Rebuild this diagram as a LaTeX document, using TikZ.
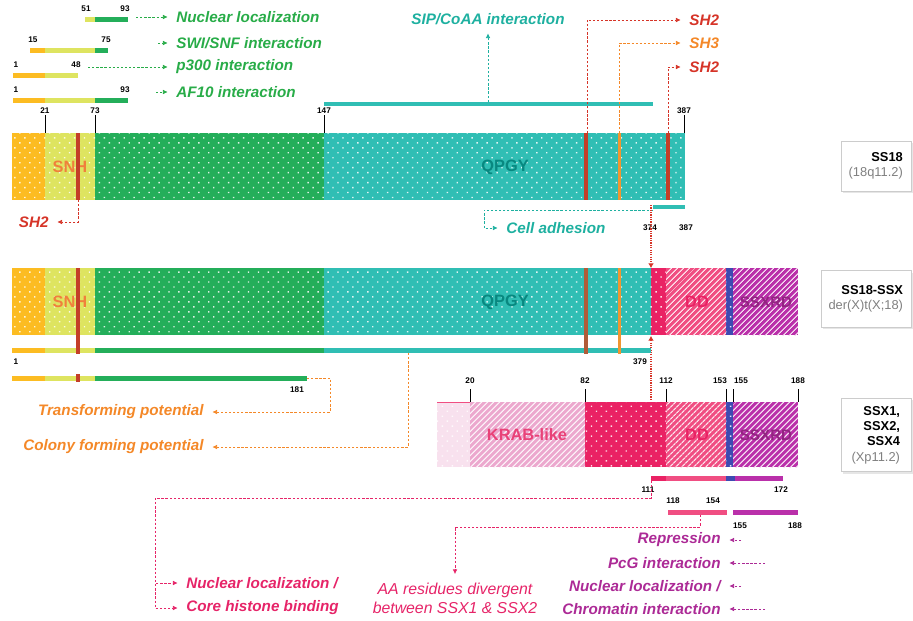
\documentclass[tikz,border=0pt]{standalone}
\usepackage{fontspec}
\setmainfont{Liberation Sans}
\usetikzlibrary{calc,arrows.meta,patterns.meta,shadows}

\definecolor{snhorange}{RGB}{252,188,34}
\definecolor{snhyellow}{RGB}{222,228,96}
\definecolor{ntgreen}{RGB}{36,174,90}
\definecolor{qpgyteal}{RGB}{48,190,180}
\definecolor{shred}{RGB}{196,62,40}
\definecolor{shbrown}{RGB}{176,92,56}
\definecolor{shorange}{RGB}{240,150,48}
\definecolor{ddpink}{RGB}{240,78,130}
\definecolor{deeppink}{RGB}{234,34,100}
\definecolor{krabpink}{RGB}{236,168,206}
\definecolor{rdblue}{RGB}{62,74,178}
\definecolor{rdpurple}{RGB}{186,48,170}
\definecolor{greentext}{RGB}{40,172,72}
\definecolor{tealtext}{RGB}{30,176,160}
\definecolor{redtext}{RGB}{214,52,40}
\definecolor{orangetext}{RGB}{244,136,40}
\definecolor{pinktext}{RGB}{230,36,104}
\definecolor{purpletext}{RGB}{172,42,150}
\definecolor{snhtext}{RGB}{240,128,60}
\definecolor{qpgytext}{RGB}{8,136,128}

\tikzset{
  dotbar/.style={fill=#1,postaction={pattern={Dots[distance=6pt,radius=0.85pt,angle=45]},pattern color=white!85!#1}},
  hatchbar/.style={fill=#1,postaction={pattern={Lines[angle=45,distance=4pt,line width=1.1pt]},pattern color=white!85!#1}},
  seg/.style={draw=#1,line width=1.5mm},
  num/.style={font=\fontsize{7}{8}\selectfont\bfseries,inner sep=1pt},
  lab/.style={font=\fontsize{13}{15}\selectfont\bfseries\itshape,inner sep=1pt},
  dom/.style={font=\fontsize{14}{16}\selectfont\bfseries},
  tickline/.style={line width=0.8pt},
  conn/.style={dash pattern=on 2pt off 1.5pt,line width=0.6pt,shorten >=2.2mm,-{Latex[length=4pt,width=4pt]}},
  bpline/.style={draw=redtext,densely dotted,line width=1pt},
  infobox/.style={draw=gray!40,fill=white,drop shadow={opacity=0.2,shadow xshift=0.6mm,shadow yshift=-0.6mm},align=right,inner sep=3pt,font=\fontsize{11}{13}\selectfont}
}

\begin{document}
\begin{tikzpicture}[x=0.3mm,y=-0.3mm]
  \path[use as bounding box] (0,0) rectangle (913,620);

  % N-terminal fragments
  \foreach \a/\b/\c/\y in {85/95/snhyellow/19,95/128/ntgreen/19,30/45/snhorange/50,45/95/snhyellow/50,95/108/ntgreen/50,
                           13/45/snhorange/75,45/78/snhyellow/75,13/45/snhorange/100,45/95/snhyellow/100,95/128/ntgreen/100}
    \draw[seg=\c] (\a,\y) -- (\b,\y);
  \node[num] (f51) at (86,9) {51};
  \node[num] (f93a) at (125,9) {93};
  \node[num] (f15) at (33,40) {15};
  \node[num] (f75) at (106,40) {75};
  \node[num] (f1a) at (16,65) {1};
  \node[num] (f48) at (76,65) {48};
  \node[num] (f1b) at (16,90) {1};
  \node[num] (f93b) at (125,90) {93};

  \node[lab,greentext,anchor=west] (nucloc) at (175,17) {Nuclear localization};
  \node[lab,greentext,anchor=west] (swisnf) at (175,43) {SWI/SNF interaction};
  \node[lab,greentext,anchor=west] (p300) at (175,67) {p300 interaction};
  \node[lab,greentext,anchor=west] (af10) at (175,92) {AF10 interaction};
  \coordinate (e93a) at (136,17);
  \coordinate (e75) at (158,43);
  \coordinate (e48) at (88,67);
  \coordinate (e93b) at (156,92);
  \draw[conn,greentext] (e93a) -- (nucloc.west);
  \draw[conn,greentext] (e75) -- (swisnf.west);
  \draw[conn,greentext] (e48) -- (p300.west);
  \draw[conn,greentext] (e93b) -- (af10.west);

  % SIP/CoAA region
  \draw[seg=qpgyteal,line width=1.3mm] (324,104) -- (653,104);
  \node[lab,tealtext] (sip) at (488,19) {SIP/CoAA interaction};
  \coordinate (sipc) at (488,102);
  \draw[conn,tealtext] (sipc) -- (sip.south);

  % SS18
  \foreach \a/\b/\c in {12/45/snhorange,45/95/snhyellow,95/324/ntgreen,324/685/qpgyteal}
    \fill[dotbar=\c] (\a,133) rectangle (\b,200);
  \node[dom,text=snhtext] (snh) at (70,167) {SNH};
  \node[dom,text=qpgytext] (qpgy) at (505,167) {QPGY};
  \fill[shred] (76,133) rectangle (80,200);
  \fill[shred] (584,133) rectangle (588,200);
  \fill[shorange] (618,133) rectangle (620.5,200);
  \fill[shred] (666,133) rectangle (670,200);
  \foreach \x/\t/\n in {45/21/a,95/73/b,324/147/c,684/387/d}{
    \node[num] (ss\n) at (\x,111) {\t};
    \draw[tickline] (ss\n.south) -- (\x,133);
  }

  \node[lab,redtext,anchor=west] (sh2a) at (688,20) {SH2};
  \node[lab,orangetext,anchor=west] (sh3) at (688,43) {SH3};
  \node[lab,redtext,anchor=west] (sh2b) at (688,67) {SH2};
  \node[lab,redtext,anchor=east] (sh2c) at (50,222) {SH2};
  \coordinate (m586) at (587,133);
  \coordinate (m619) at (619,133);
  \coordinate (m668) at (668,133);
  \coordinate (m78) at (78,200);
  \draw[conn,redtext] (m586) |- (sh2a.west);
  \draw[conn,orangetext] (m619) |- (sh3.west);
  \draw[conn,redtext] (m668) |- (sh2b.west);
  \draw[conn,redtext] (m78) |- (sh2c.east);

  % cell adhesion
  \draw[seg=qpgyteal,line width=1.3mm] (653,207) -- (685,207);
  \node[num] (c374) at (650,228) {374};
  \node[num] (c387) at (686,228) {387};
  \node[lab,tealtext,anchor=west] (celladh) at (505,228) {Cell adhesion};
  \coordinate (ca) at (653,210);
  \draw[conn,tealtext] (ca) -- ++(-169,0) |- (celladh.west);

  % breakpoint
  \coordinate (bp1) at (651,205);
  \coordinate (bp2) at (651,268);
  \coordinate (bp3) at (651,336);
  \coordinate (bp4) at (651,399);
  \draw[bpline,-{Latex[length=4pt,width=5pt]}] (bp1) -- (bp2);
  \draw[bpline,{Latex[length=4pt,width=5pt]}-] (bp3) -- (bp4);

  % SS18-SSX
  \foreach \a/\b/\c in {12/45/snhorange,45/95/snhyellow,95/324/ntgreen,324/651/qpgyteal,651/666/deeppink,726/733/rdblue}
    \fill[dotbar=\c] (\a,268) rectangle (\b,335);
  \foreach \a/\b/\c in {666/726/ddpink,733/798/rdpurple}
    \fill[hatchbar=\c] (\a,268) rectangle (\b,335);
  \node[dom,text=snhtext] (snh2) at (70,302) {SNH};
  \node[dom,text=qpgytext] (qpgy2) at (505,302) {QPGY};
  \node[dom,text=deeppink] (dd2) at (697,302) {DD};
  \node[dom,text=purpletext!85!black,font=\fontsize{13}{15}\selectfont\bfseries] (rd2) at (766,302) {SSXRD};

  \foreach \a/\b/\c in {12/45/snhorange,45/95/snhyellow,95/324/ntgreen,324/651/qpgyteal}
    \draw[seg=\c] (\a,350) -- (\b,350);
  \foreach \a/\b/\c in {12/45/snhorange,45/95/snhyellow,95/307/ntgreen}
    \draw[seg=\c] (\a,378) -- (\b,378);
  \fill[shred] (76,268) rectangle (80,354);
  \fill[shbrown] (584,268) rectangle (588,354);
  \fill[shorange] (618,268) rectangle (620.5,354);
  \fill[shred] (76,374) rectangle (80,382);
  \node[num] (d1) at (16,362) {1};
  \node[num] (d379) at (640,362) {379};
  \node[num] (d181) at (297,390) {181};

  \node[lab,orangetext,anchor=east] (transf) at (205,412) {Transforming potential};
  \node[lab,orangetext,anchor=east] (colony) at (205,447) {Colony forming potential};
  \coordinate (e181) at (307,378);
  \coordinate (e379) at (408,353);
  \draw[conn,orangetext] (e181) -- ++(23,0) |- (transf.east);
  \draw[conn,orangetext] (e379) |- (colony.east);

  % SSX
  \fill[dotbar=krabpink!35] (437,402) rectangle (470,467);
  \draw[ddpink,line width=0.8pt] (437,402) -- (470,402);
  \foreach \a/\b/\c in {585/666/deeppink,726/733/rdblue}
    \fill[dotbar=\c] (\a,402) rectangle (\b,467);
  \foreach \a/\b/\c in {470/585/krabpink,666/726/ddpink,733/798/rdpurple}
    \fill[hatchbar=\c] (\a,402) rectangle (\b,467);
  \node[dom,text=ddpink!85!purple] (krab) at (527,435) {KRAB-like};
  \node[dom,text=deeppink] (dd3) at (697,435) {DD};
  \node[dom,text=purpletext!85!black,font=\fontsize{13}{15}\selectfont\bfseries] (rd3) at (766,435) {SSXRD};
  \foreach \x/\lx/\t/\n in {470/470/20/a,585/585/82/b,666/666/112/c,726/720/153/d,733/741/155/e,798/798/188/f}{
    \node[num] (sx\n) at (\lx,381) {\t};
    \draw[tickline] (\x,389) -- (\x,402);
  }

  \foreach \a/\b/\c in {651/666/deeppink,666/726/ddpink,726/735/rdblue,735/783/rdpurple}
    \draw[seg=\c] (\a,478) -- (\b,478);
  \draw[seg=ddpink] (668,512) -- (727,512);
  \draw[seg=rdpurple] (733,512) -- (798,512);
  \node[num] (s111) at (648,490) {111};
  \node[num] (s172) at (781,490) {172};
  \node[num] (s118) at (673,501) {118};
  \node[num] (s154) at (713,501) {154};
  \node[num] (s155) at (740,526) {155};
  \node[num] (s188) at (795,526) {188};

  \node[lab,pinktext,anchor=west] (nucloc2) at (185,583) {Nuclear localization /};
  \node[lab,pinktext,anchor=west] (histone) at (185,608) {Core histone binding};
  \coordinate (b111) at (651,481);
  \coordinate (nlj) at (155,498);
  \draw[dash pattern=on 2pt off 1.5pt,line width=0.6pt,pinktext] (b111) |- (nlj);
  \draw[conn,pinktext] (nlj) |- (nucloc2.west);
  \draw[conn,pinktext] (nlj) |- (histone.west);

  \node[pinktext,font=\fontsize{13.5}{16}\selectfont\itshape,align=center,inner sep=1pt] (aares) at (455,598)
    {AA residues divergent\\between SSX1 \& SSX2};
  \coordinate (b118) at (700,515);
  \draw[conn,pinktext] (b118) -- ++(0,12) -| (aares.north);

  \node[lab,purpletext,anchor=east] (repr) at (722,540) {Repression};
  \node[lab,purpletext,anchor=east] (pcg) at (722,563) {PcG interaction};
  \node[lab,purpletext,anchor=east] (nucloc3) at (722,586) {Nuclear localization /};
  \node[lab,purpletext,anchor=east] (chrom) at (722,609) {Chromatin interaction};
  \coordinate (mrep) at (741,540);
  \coordinate (mpcg) at (765,563);
  \coordinate (mnuc) at (741,586);
  \coordinate (mchr) at (765,609);
  \draw[conn,purpletext] (mrep) -- (repr.east);
  \draw[conn,purpletext] (mpcg) -- (pcg.east);
  \draw[conn,purpletext] (mnuc) -- (nucloc3.east);
  \draw[conn,purpletext] (mchr) -- (chrom.east);

  % gene boxes
  \node[infobox,anchor=east,minimum width=21mm,minimum height=15mm] (ss18box) at (911,166)
    {\textbf{SS18}\\\textcolor{gray}{(18q11.2)}};
  \node[infobox,anchor=east,minimum width=27mm,minimum height=17mm] (fusbox) at (911,299)
    {\textbf{SS18-SSX}\\\textcolor{gray}{der(X)t(X;18)}};
  \node[infobox,anchor=east,minimum width=21mm,minimum height=22mm] (ssxbox) at (911,435)
    {\textbf{SSX1,}\\\textbf{SSX2,}\\\textbf{SSX4}\\\textcolor{gray}{(Xp11.2)}};
\end{tikzpicture}
\end{document}
